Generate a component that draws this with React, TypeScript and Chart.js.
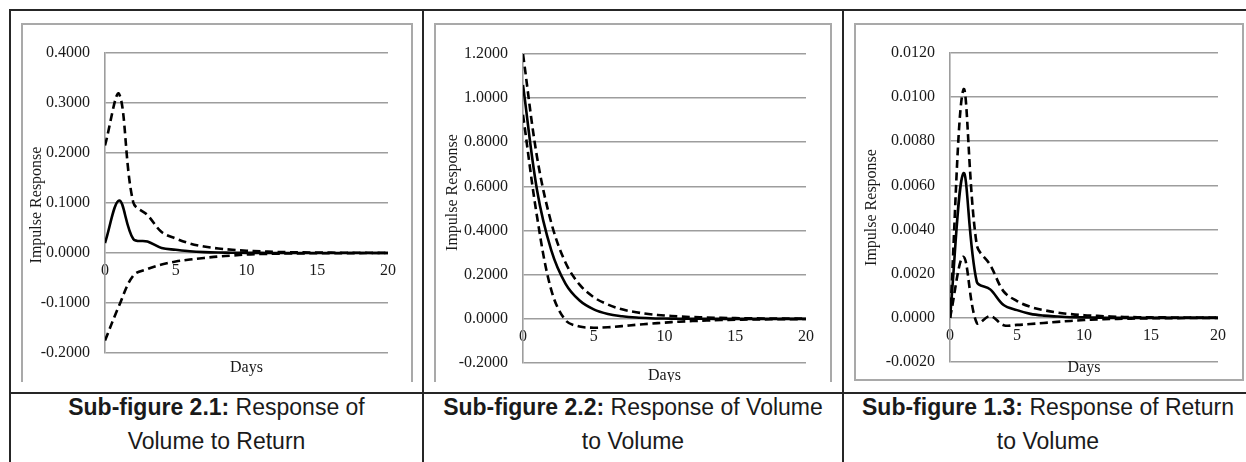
import React, { useEffect, useRef } from 'react';
import { Chart, registerables } from 'chart.js';

Chart.register(...registerables);

// ---------- data ----------
const days = [0, 1, 2, 3, 4, 5, 6, 7, 8, 9, 10, 11, 12, 13, 14, 15, 16, 17, 18, 19, 20];

// Sub-figure 2.1: Response of Volume to Return
const volRetMid = [0.020, 0.105, 0.028, 0.023, 0.010, 0.0065, 0.0035, 0.0018, 0.0009, 0.0005, 0.0003, 0.0002, 0.0001, 0.0001, 0.0, 0.0, 0.0, 0.0, 0.0, 0.0, 0.0];
const volRetUpper = [0.215, 0.318, 0.101, 0.076, 0.042, 0.029, 0.019, 0.013, 0.009, 0.0065, 0.0045, 0.0032, 0.0023, 0.0016, 0.0012, 0.0009, 0.0007, 0.0005, 0.0004, 0.0003, 0.0002];
const volRetLower = [-0.175, -0.105, -0.045, -0.032, -0.023, -0.017, -0.013, -0.010, -0.007, -0.005, -0.003, -0.002, -0.0014, -0.001, -0.0007, -0.0005, -0.0004, -0.0003, -0.0002, -0.0001, -0.0001];

// Sub-figure 2.2: Response of Volume to Volume
const volVolMid = [1.06, 0.58, 0.31, 0.160, 0.083, 0.043, 0.022, 0.012, 0.006, 0.003, 0.0016, 0.0008, 0.0004, 0.0002, 0.0001, 0.0001, 0.0, 0.0, 0.0, 0.0, 0.0];
const volVolUpper = [1.20, 0.73, 0.435, 0.255, 0.155, 0.098, 0.065, 0.043, 0.030, 0.021, 0.015, 0.011, 0.008, 0.006, 0.0045, 0.0034, 0.0025, 0.0019, 0.0014, 0.0011, 0.0008];
const volVolLower = [0.925, 0.46, 0.13, -0.006, -0.035, -0.040, -0.038, -0.033, -0.027, -0.022, -0.017, -0.013, -0.010, -0.0075, -0.0055, -0.004, -0.003, -0.0022, -0.0016, -0.0012, -0.0009];

// Sub-figure 1.3: Response of Return to Volume
const retVolMid = [0.0, 0.00655, 0.00163, 0.00129, 0.00058, 0.00035, 0.00018, 0.0001, 0.00006, 0.00003, 0.00002, 0.00001, 0.0, 0.0, 0.0, 0.0, 0.0, 0.0, 0.0, 0.0, 0.0];
const retVolUpper = [0.0, 0.01034, 0.0033, 0.0024, 0.00120, 0.00076, 0.0005, 0.00035, 0.00024, 0.00017, 0.00012, 0.00009, 0.00006, 0.00004, 0.00003, 0.00002, 0.00002, 0.00001, 0.00001, 0.00001, 0.00001];
const retVolLower = [0.0, 0.00277, -0.00023, 0.00008, -0.00033, -0.00032, -0.00028, -0.00023, -0.00018, -0.00014, -0.0001, -0.00007, -0.00005, -0.00004, -0.00003, -0.00002, -0.00001, -0.00001, 0.0, 0.0, 0.0];

const yMins = [-0.2, -0.2, -0.002];
const yMaxs = [0.4, 1.2, 0.012];
const ySteps = [0.1, 0.2, 0.002];
const xMin = 0;
const xMax = 20;
const xStep = 5;

const yAxisTitle = 'Impulse Response';
const xAxisTitle = 'Days';

const captionBold = ['Sub-figure 2.1:', 'Sub-figure 2.2:', 'Sub-figure 1.3:'];
const captionRest = [' Response of', ' Response of Volume', ' Response of Return'];
const captionLine2 = ['Volume to Return', 'to Volume', 'to Volume'];

// ---------- styles ----------
const SERIF = '"Liberation Serif", "Times New Roman", serif';
const SANS = '"Liberation Sans", Arial, sans-serif';
const GRID = '#9d9d9d';
const FRAME = '#a9a9a9';
const RULE = '#262626';
const INK = '#1a1a1a';

type Box = {
  left: number; top: number; width: number; height: number;
  axisW: number; padTop: number; padRight: number; padBottom: number;
  titleX: number; titleDy: number; daysDy: number;
};

type Props = {
  mid: number[]; upper: number[]; lower: number[];
  yMin: number; yMax: number; yStep: number; box: Box;
};

function ImpulseChart({ mid, upper, lower, yMin, yMax, yStep, box }: Props) {
  const ref = useRef<HTMLCanvasElement | null>(null);
  useEffect(() => {
    if (!ref.current) return;
    const pts = (arr: number[]) => days.map((d, i) => ({ x: d, y: arr[i] }));
    const lineBase = {
      borderColor: '#000',
      borderWidth: 2.6,
      pointRadius: 0,
      tension: 0.35,
      fill: false,
    };
    const textPlugin = {
      id: 'axisTexts',
      afterDraw(chart: any) {
        const { ctx, chartArea } = chart;
        ctx.save();
        ctx.fillStyle = INK;
        ctx.font = `16px ${SERIF}`;
        ctx.textAlign = 'center';
        ctx.textBaseline = 'middle';
        ctx.fillText(xAxisTitle, (chartArea.left + chartArea.right) / 2, chartArea.bottom + box.daysDy);
        ctx.translate(box.titleX, (chartArea.top + chartArea.bottom) / 2 + box.titleDy);
        ctx.rotate(-Math.PI / 2);
        ctx.fillText(yAxisTitle, 0, 0);
        ctx.restore();
      },
    };
    const chart = new Chart(ref.current, {
      type: 'line',
      data: {
        datasets: [
          { ...lineBase, data: pts(mid) },
          { ...lineBase, data: pts(upper), borderDash: [8, 4.5] },
          { ...lineBase, data: pts(lower), borderDash: [8, 4.5] },
        ],
      },
      options: {
        responsive: false,
        animation: false,
        events: [],
        layout: { padding: { left: 0, top: box.padTop, right: box.padRight, bottom: box.padBottom } },
        plugins: { legend: { display: false }, tooltip: { enabled: false }, title: { display: false } },
        scales: {
          x: {
            type: 'linear',
            position: { y: 0 },
            min: xMin,
            max: xMax,
            ticks: { stepSize: xStep, padding: 8, color: INK, font: { family: SERIF, size: 16 }, maxRotation: 0 },
            grid: { display: false, drawTicks: false },
            border: { display: false },
            afterFit: (s: any) => { s.paddingLeft = 0; s.paddingRight = 0; s.paddingTop = 0; s.paddingBottom = 0; },
          },
          y: {
            type: 'linear',
            min: yMin,
            max: yMax,
            ticks: {
              stepSize: yStep,
              padding: 15,
              color: INK,
              font: { family: SERIF, size: 16 },
              callback: (v: any) => {
                const n = Number(v);
                return (Math.abs(n) < 1e-12 ? 0 : n).toFixed(4);
              },
            },
            grid: { color: GRID, lineWidth: 1.6, drawTicks: false },
            border: { display: true, color: GRID, width: 1.6 },
            afterFit: (s: any) => { s.width = box.axisW; s.paddingTop = 0; s.paddingBottom = 0; },
          },
        },
      } as any,
      plugins: [textPlugin],
    });
    return () => chart.destroy();
  }, []);
  return (
    <canvas
      ref={ref}
      width={box.width}
      height={box.height}
      style={{ position: 'absolute', left: box.left, top: box.top, width: box.width, height: box.height }}
    />
  );
}

const boxes: Box[] = [
  { left: 23, top: 25, width: 388, height: 357, axisW: 82, padTop: 28, padRight: 23, padBottom: 29, titleX: 14, titleDy: 2, daysDy: 15 },
  { left: 436, top: 25, width: 394, height: 357, axisW: 87, padTop: 29, padRight: 24, padBottom: 19, titleX: 17, titleDy: -16, daysDy: 13 },
  { left: 856, top: 25, width: 386, height: 354, axisW: 94, padTop: 28, padRight: 24, padBottom: 17, titleX: 16, titleDy: 0, daysDy: 6 },
];

const frames = [
  { left: 21, top: 23, width: 392, height: 359, closed: false },
  { left: 434, top: 23, width: 398, height: 359, closed: false },
  { left: 854, top: 23, width: 390, height: 358, closed: true },
];

const cells = [
  { left: 11, width: 411 },
  { left: 424, width: 418 },
  { left: 844, width: 408 },
];

export default function App() {
  const series = [
    [volRetMid, volRetUpper, volRetLower],
    [volVolMid, volVolUpper, volVolLower],
    [retVolMid, retVolUpper, retVolLower],
  ];
  const rule = (s: React.CSSProperties) => <div style={{ position: 'absolute', background: RULE, ...s }} />;
  return (
    <div style={{ position: 'fixed', left: 0, top: 0, width: 1246, height: 462, background: '#fff', overflow: 'hidden' }}>
      {frames.map((f, i) => (
        <div
          key={'f' + i}
          style={{
            position: 'absolute', left: f.left, top: f.top, width: f.width, height: f.height, boxSizing: 'border-box',
            borderLeft: `2px solid ${FRAME}`, borderTop: `2px solid ${FRAME}`, borderRight: `2px solid ${FRAME}`,
            borderBottom: f.closed ? `2px solid ${FRAME}` : 'none',
          }}
        />
      ))}
      {series.map((s, i) => (
        <ImpulseChart key={'c' + i} mid={s[0]} upper={s[1]} lower={s[2]} yMin={yMins[i]} yMax={yMaxs[i]} yStep={ySteps[i]} box={boxes[i]} />
      ))}
      {rule({ left: 9, top: 9, width: 1237, height: 2 })}
      {rule({ left: 9, top: 392, width: 1237, height: 2 })}
      {rule({ left: 9, top: 9, width: 2, height: 453 })}
      {rule({ left: 422, top: 9, width: 2, height: 453 })}
      {rule({ left: 842, top: 9, width: 2, height: 453 })}
      {cells.map((c, i) => (
        <div
          key={'t' + i}
          style={{
            position: 'absolute', left: c.left, top: 390, width: c.width, textAlign: 'center',
            fontFamily: SANS, fontSize: 23, lineHeight: '34px', color: INK, whiteSpace: 'nowrap',
          }}
        >
          <b>{captionBold[i]}</b>{captionRest[i]}
          <br />
          {captionLine2[i]}
        </div>
      ))}
    </div>
  );
}
